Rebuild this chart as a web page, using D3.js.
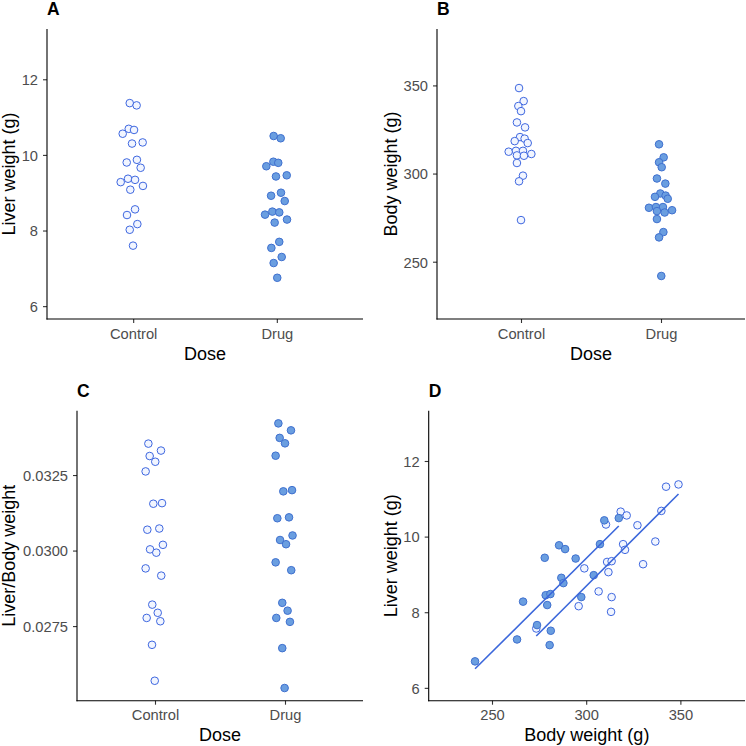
<!DOCTYPE html>
<html>
<head>
<meta charset="utf-8">
<script src="https://cdn.jsdelivr.net/npm/d3@7"></script>
<style>
  html, body { margin: 0; padding: 0; background: #ffffff; }
  svg { display: block; }
  text { font-family: "Liberation Sans", Arial, Helvetica, sans-serif; }
</style>
</head>
<body>
<svg id="chart" width="746" height="746"></svg>
<script>
// ---------------- DATA ----------------
const doseGroups = ["Control", "Drug"];

const liverTicks = [6, 8, 10, 12];
const bodyTicks = [250, 300, 350];
const ratioTicks = [0.0275, 0.0300, 0.0325];

// Panel A: liver weight (g) by dose, with horizontal jitter (fraction of category spacing)
const liverControlA = [11.37, 11.31, 10.69, 10.66, 10.56, 10.30, 10.33, 9.87, 9.80, 9.66,
                       9.37, 9.34, 9.28, 9.08, 9.18, 8.56, 8.41, 8.17, 8.02, 7.60];
const jitterControlA = [-0.024, 0.024, -0.031, 0.006, -0.073, -0.008, 0.066, 0.026, -0.045, 0.052,
                        -0.036, 0.013, -0.087, -0.020, 0.068, 0.013, -0.043, 0.029, -0.024, -0.001];
const liverDrugA = [10.50, 10.44, 9.82, 9.79, 9.70, 9.43, 9.46, 8.92, 9.00, 8.78,
                    8.42, 8.50, 8.48, 8.29, 8.21, 7.70, 7.54, 7.30, 7.14, 6.75];
const jitterDrugA = [-0.022, 0.027, -0.024, 0.010, -0.073, -0.006, 0.069, -0.040, 0.029, 0.055,
                     -0.082, -0.031, 0.017, 0.071, -0.015, 0.017, -0.038, 0.034, -0.022, 0.003];

// Panel B: body weight (g) by dose
const bodyControlB = [348.5, 341.1, 338.3, 335.4, 329.0, 326.2, 320.7, 319.8, 318.4, 317.3,
                      312.4, 312.9, 312.9, 311.1, 310.3, 310.1, 306.0, 298.8, 295.6, 273.6];
const jitterControlB = [-0.014, 0.019, -0.019, 0.000, -0.029, 0.029, -0.007, 0.026, -0.045, 0.048,
                        -0.088, -0.036, 0.014, 0.074, -0.029, 0.021, -0.029, 0.014, -0.014, 0.000];
const bodyDrugB = [316.6, 309.2, 306.4, 303.6, 297.2, 294.3, 288.7, 287.5, 286.8, 285.7,
                   280.6, 281.0, 281.0, 278.7, 277.9, 279.2, 274.2, 266.8, 263.8, 241.9];
const jitterDrugB = [-0.014, 0.019, -0.014, 0.005, -0.029, 0.031, -0.005, 0.033, -0.043, 0.048,
                     -0.086, -0.036, 0.014, -0.029, 0.026, 0.079, -0.029, 0.017, -0.014, 0.002];

// Panel C: liver/body weight ratio by dose
const ratioControlC = [0.03354, 0.03331, 0.03313, 0.03294, 0.03262, 0.03155, 0.03157, 0.03069, 0.03073, 0.03019,
                       0.03004, 0.02993, 0.02941, 0.02917, 0.02821, 0.02794, 0.02777, 0.02766, 0.02688, 0.02569];
const jitterControlC = [-0.051, 0.046, -0.041, 0.002, -0.072, -0.013, 0.054, -0.059, 0.033, 0.061,
                        -0.038, 0.010, -0.072, 0.048, -0.021, 0.021, -0.064, 0.041, -0.023, -0.002];
const ratioDrugC = [0.03421, 0.03398, 0.03373, 0.03355, 0.03314, 0.03196, 0.03200, 0.03107, 0.03110, 0.03050,
                    0.03035, 0.03021, 0.02961, 0.02935, 0.02827, 0.02801, 0.02777, 0.02764, 0.02677, 0.02545];
const jitterDrugC = [-0.051, 0.046, -0.041, 0.000, -0.072, -0.013, 0.054, -0.059, 0.031, 0.058,
                     -0.038, 0.008, -0.072, 0.048, -0.021, 0.020, -0.067, 0.038, -0.021, -0.003];

// Panel D: liver weight vs body weight, per animal
const bodyControlD = [349.0, 342.4, 339.9, 318.3, 321.5, 327.2, 310.5, 336.7, 319.6, 320.6,
                      311.1, 313.5, 330.2, 299.0, 311.8, 306.6, 313.5, 296.0, 313.2, 273.5];
const liverControlD = [11.38, 11.32, 10.68, 10.66, 10.56, 10.30, 10.32, 9.87, 9.80, 9.65,
                       9.33, 9.35, 9.27, 9.16, 9.06, 8.55, 8.40, 8.16, 8.01, 7.57];
const bodyDrugD = [317.3, 309.6, 307.3, 285.6, 288.8, 278.0, 294.4, 286.8, 304.0, 287.9,
                   278.5, 281.0, 297.4, 266.5, 279.3, 273.9, 281.2, 263.3, 280.6, 241.0];
const liverDrugD = [10.49, 10.43, 9.80, 9.77, 9.67, 9.44, 9.42, 8.91, 8.98, 8.77,
                    8.45, 8.48, 8.40, 8.28, 8.19, 7.66, 7.51, 7.28, 7.13, 6.70];

// ---------------- STYLE ----------------
const style = {
  control: { fill: "#F1F5FF", stroke: "#3E67E0" },
  drug: { fill: "#6A9EE0", stroke: "#3F70CF" },
  line: "#3B67DB",
  r: 3.8,
  tickFont: 14.7,
  titleFont: 18,
  tagFont: 17.5,
  tickColor: "#4D4D4D"
};

const svg = d3.select("#chart");
svg.append("rect").attr("width", 746).attr("height", 746).attr("fill", "#ffffff");

function drawAxes(g, x, y, box, opts) {
  const ya = g.append("g").attr("transform", `translate(${box.x0},0)`)
    .call(d3.axisLeft(y).tickValues(opts.yTicks).tickSize(4).tickPadding(5).tickFormat(opts.yFormat));
  const xa = g.append("g").attr("transform", `translate(0,${box.y1})`)
    .call(d3.axisBottom(x).tickValues(opts.xTicks).tickSize(4).tickPadding(5).tickFormat(opts.xFormat));
  [ya, xa].forEach(a => {
    a.select(".domain").remove();
    a.selectAll(".tick line").attr("stroke", "#333333").attr("stroke-width", 1.1);
    a.selectAll(".tick text").attr("fill", style.tickColor).attr("font-size", style.tickFont)
      .attr("font-family", '"Liberation Sans", Arial, sans-serif');
  });
  ya.selectAll(".tick text").attr("dy", "0.36em");
  xa.selectAll(".tick text").attr("dy", "0.72em").attr("y", 9);
  g.append("line").attr("x1", box.x0).attr("x2", box.x0).attr("y1", box.y0).attr("y2", box.y1 + 0.55)
    .attr("stroke", "#000").attr("stroke-width", 1.1);
  g.append("line").attr("x1", box.x0 - 0.55).attr("x2", box.x1).attr("y1", box.y1).attr("y2", box.y1)
    .attr("stroke", "#000").attr("stroke-width", 1.1);
  g.append("text").attr("x", (box.x0 + box.x1) / 2).attr("y", box.y1 + 40.5)
    .attr("text-anchor", "middle").attr("font-size", style.titleFont).attr("fill", "#000")
    .text(opts.xTitle);
  g.append("text").attr("transform", `translate(${opts.yTitleX},${(box.y0 + box.y1) / 2}) rotate(-90)`)
    .attr("text-anchor", "middle").attr("font-size", style.titleFont).attr("fill", "#000")
    .text(opts.yTitle);
  g.append("text").attr("x", box.x0).attr("y", opts.tagY)
    .attr("font-size", style.tagFont).attr("font-weight", "bold").attr("fill", "#000")
    .text(opts.tag);
}

function dosePanel(box, yDomain, controlVals, controlJit, drugVals, drugJit, opts) {
  const g = svg.append("g");
  const x = d3.scaleLinear().domain([0.4, 2.6]).range([box.x0, box.x1]);
  const xBand = d3.scalePoint().domain(doseGroups).range([x(1), x(2)]);
  const unit = x(2) - x(1);
  const y = d3.scaleLinear().domain(yDomain).range([box.y1, box.y0]);
  const series = [
    { vals: controlVals, jit: controlJit, grp: "Control", st: style.control },
    { vals: drugVals, jit: drugJit, grp: "Drug", st: style.drug }
  ];
  series.forEach(s => {
    g.append("g").selectAll("circle").data(s.vals).join("circle")
      .attr("cx", (d, i) => xBand(s.grp) + s.jit[i] * unit)
      .attr("cy", d => y(d))
      .attr("r", style.r)
      .attr("fill", s.st.fill).attr("stroke", s.st.stroke).attr("stroke-width", 1);
  });
  drawAxes(g, xBand, y, box, Object.assign({ xTicks: doseGroups, xFormat: d => d, xTitle: "Dose" }, opts));
}

dosePanel({ x0: 47, x1: 363, y0: 29, y1: 319 }, [5.66, 13.33],
  liverControlA, jitterControlA, liverDrugA, jitterDrugA,
  { yTicks: liverTicks, yFormat: d3.format("d"), yTitle: "Liver weight (g)", yTitleX: 15.3, tag: "A", tagY: 14.5 });

dosePanel({ x0: 437, x1: 745, y0: 29, y1: 319 }, [217.5, 382],
  bodyControlB, jitterControlB, bodyDrugB, jitterDrugB,
  { yTicks: bodyTicks, yFormat: d3.format("d"), yTitle: "Body weight (g)", yTitleX: 396.5, tag: "B", tagY: 14.5 });

dosePanel({ x0: 77, x1: 363, y0: 410.7, y1: 700.7 }, [0.02503, 0.03463],
  ratioControlC, jitterControlC, ratioDrugC, jitterDrugC,
  { yTicks: ratioTicks, yFormat: d3.format(".4f"), yTitle: "Liver/Body weight", yTitleX: 15.3, tag: "C", tagY: 396.5 });

(function () {
  const box = { x0: 428.7, x1: 745, y0: 410.7, y1: 700.7 };
  const g = svg.append("g");
  const x = d3.scaleLinear().domain([216.4, 384.3]).range([box.x0, box.x1]);
  const y = d3.scaleLinear().domain([5.66, 13.33]).range([box.y1, box.y0]);
  const groups = [
    { xs: bodyControlD, ys: liverControlD, st: style.control },
    { xs: bodyDrugD, ys: liverDrugD, st: style.drug }
  ];
  groups.forEach(s => {
    g.append("g").selectAll("circle").data(s.xs).join("circle")
      .attr("cx", d => x(d))
      .attr("cy", (d, i) => y(s.ys[i]))
      .attr("r", style.r)
      .attr("fill", s.st.fill).attr("stroke", s.st.stroke).attr("stroke-width", 1);
  });
  groups.forEach(s => {
    const mx = d3.mean(s.xs), my = d3.mean(s.ys);
    const sxy = d3.sum(s.xs, (d, i) => (d - mx) * (s.ys[i] - my));
    const sxx = d3.sum(s.xs, d => (d - mx) * (d - mx));
    const b = sxy / sxx, a = my - b * mx;
    const ext = d3.extent(s.xs);
    const pts = ext.map(v => [v, a + b * v]);
    g.append("path").datum(pts)
      .attr("d", d3.line().x(d => x(d[0])).y(d => y(d[1])))
      .attr("fill", "none").attr("stroke", style.line).attr("stroke-width", 1.6);
  });
  drawAxes(g, x, y, box, {
    xTicks: bodyTicks, xFormat: d3.format("d"), xTitle: "Body weight (g)",
    yTicks: liverTicks, yFormat: d3.format("d"), yTitle: "Liver weight (g)", yTitleX: 396.5, tag: "D", tagY: 396.5
  });
})();
</script>
</body>
</html>
